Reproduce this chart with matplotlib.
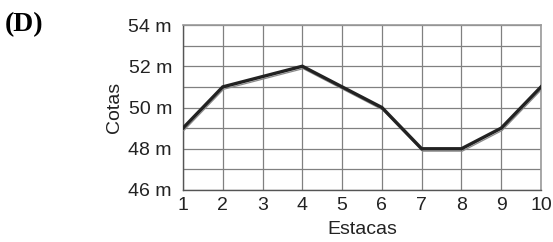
import matplotlib.pyplot as plt
import matplotlib.transforms as mtransforms

# Stations and elevations (m)
estacas = [1, 2, 3, 4, 5, 6, 7, 8, 9, 10]
cotas = [49, 51, 51.5, 52, 51, 50, 48, 48, 49, 51]
yticks = [46, 48, 50, 52, 54]
ytick_labels = ["46 m", "48 m", "50 m", "52 m", "54 m"]

plt.rcParams['font.family'] = ['Liberation Sans', 'DejaVu Sans']

fig = plt.figure(figsize=(5.53, 2.42), dpi=100)
ax = fig.add_axes([183 / 553, 1 - 190 / 242, 358 / 553, 165 / 242])

# thin grey "shadow" line under the main profile
shadow = mtransforms.offset_copy(ax.transData, fig=fig, x=0.8, y=-2.4, units='dots')
ax.plot(estacas, cotas, color='#8a8a8a', lw=0.9, transform=shadow, zorder=3)
ax.plot(estacas, cotas, color='#222222', lw=2.4, solid_joinstyle='miter', zorder=4)

ax.set_xlim(1, 10)
ax.set_ylim(46, 54)
ax.set_xticks(estacas)
ax.set_yticks(yticks)
ax.set_yticklabels(ytick_labels)
ax.set_yticks(range(46, 55), minor=True)
ax.tick_params(axis='both', which='both', length=0, labelsize=14, colors='#222222')
ax.tick_params(axis='y', pad=8)
ax.tick_params(axis='x', pad=5)

ax.grid(True, which='both', color='#808080', lw=0.9)
ax.set_axisbelow(True)
for side in ['top', 'right']:
    ax.spines[side].set_color('#9a9a9a')
    ax.spines[side].set_linewidth(1.2)
for side in ['left', 'bottom']:
    ax.spines[side].set_color('#555555')
    ax.spines[side].set_linewidth(1.0)

ax.set_xlabel('Estacas', fontsize=14, color='#222222', labelpad=5)
ax.set_ylabel('Cotas', fontsize=14, color='#222222', labelpad=4)

fig.text(5 / 553, 1 - 25 / 242, '(D)', fontsize=20, fontweight='bold',
         family='Liberation Serif', va='center', ha='left')

fig.savefig('out.png', dpi=100)
